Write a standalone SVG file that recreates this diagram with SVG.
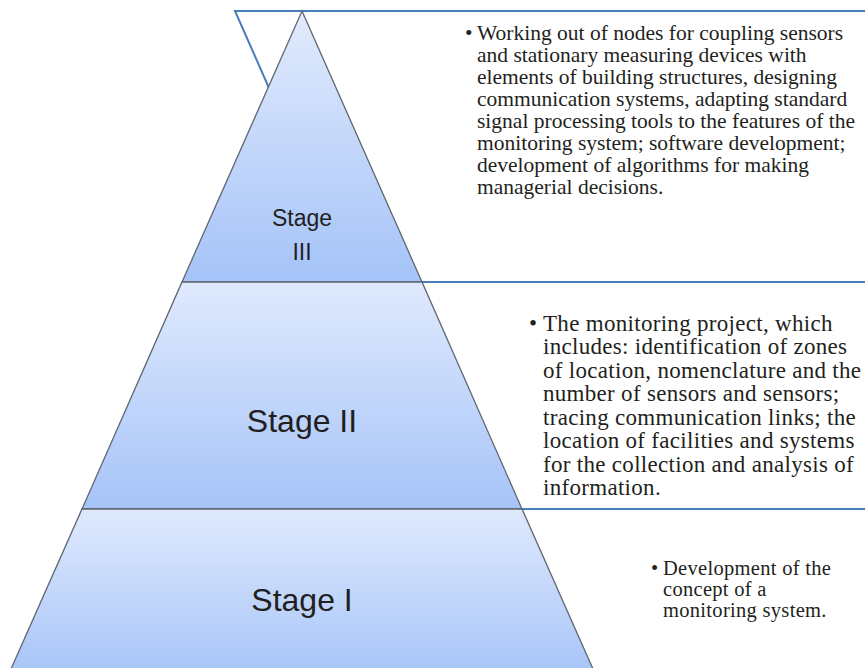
<svg xmlns="http://www.w3.org/2000/svg" width="865" height="668" viewBox="0 0 865 668">
<defs>
<linearGradient id="g3" x1="0" y1="0" x2="0" y2="1"><stop offset="0" stop-color="#e2ebfd"/><stop offset="1" stop-color="#a5c3f8"/></linearGradient>
<linearGradient id="g2" x1="0" y1="0" x2="0" y2="1"><stop offset="0" stop-color="#dfe9fd"/><stop offset="1" stop-color="#a6c4f8"/></linearGradient>
<linearGradient id="g1" x1="0" y1="0" x2="0" y2="1"><stop offset="0" stop-color="#dfe9fd"/><stop offset="1" stop-color="#a6c4f8"/></linearGradient>
</defs>
<style>
.band{stroke:#5f6670;stroke-width:1.3}
.lead{stroke:#4a7ebb;stroke-width:2;fill:none}
.lbl{font-family:"Liberation Sans",Arial,sans-serif;fill:#231f20;text-anchor:middle}
.txt{font-family:"Liberation Serif","Times New Roman",serif;fill:#231f20}
</style>
<g id="connectors">
<polyline class="lead" points="280,113 235,11 865,11"/>
<line class="lead" x1="422" y1="282" x2="865" y2="282"/>
<line class="lead" x1="522" y1="509" x2="865" y2="509"/>
</g>
<g id="stage3">
<polygon class="band" points="302,11 422,282 182,282" fill="url(#g3)"/>
<text class="lbl" font-size="23"><tspan x="302" y="226">Stage</tspan><tspan x="302" y="260">III</tspan></text>
</g>
<g id="stage2">
<polygon class="band" points="182,282 422,282 522,509 82,509" fill="url(#g2)"/>
<text class="lbl" x="302" y="432" font-size="32">Stage II</text>
</g>
<g id="stage1">
<polygon class="band" points="82,509 522,509 597,678 7,678" fill="url(#g1)"/>
<text class="lbl" x="302" y="611" font-size="32">Stage I</text>
</g>
<g id="text3">
<text class="txt" font-size="21.5"><tspan x="465" y="40">•</tspan><tspan x="477" y="40">Working out of nodes for coupling sensors</tspan><tspan x="477" y="62">and stationary measuring devices with</tspan><tspan x="477" y="84">elements of building structures, designing</tspan><tspan x="477" y="106">communication systems, adapting standard</tspan><tspan x="477" y="128">signal processing tools to the features of the</tspan><tspan x="477" y="150">monitoring system; software development;</tspan><tspan x="477" y="172">development of algorithms for making</tspan><tspan x="477" y="194">managerial decisions.</tspan></text>
</g>
<g id="text2">
<text class="txt" font-size="23" letter-spacing="0.3"><tspan x="529" y="330.5">•</tspan><tspan x="543" y="330.5">The monitoring project, which</tspan><tspan x="543" y="354">includes: identification of zones</tspan><tspan x="543" y="377.5">of location, nomenclature and the</tspan><tspan x="543" y="401">number of sensors and sensors;</tspan><tspan x="543" y="424.5">tracing communication links; the</tspan><tspan x="543" y="448">location of facilities and systems</tspan><tspan x="543" y="471.5">for the collection and analysis of</tspan><tspan x="543" y="495">information.</tspan></text>
</g>
<g id="text1">
<text class="txt" font-size="20.5" letter-spacing="0.3"><tspan x="651" y="575">•</tspan><tspan x="663" y="575">Development of the</tspan><tspan x="663" y="596">concept of a</tspan><tspan x="663" y="617">monitoring system.</tspan></text>
</g>
</svg>
